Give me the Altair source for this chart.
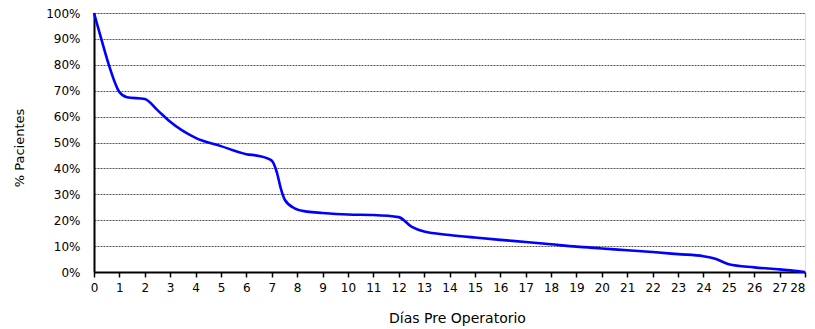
import altair as alt
import pandas as pd

# (day, % patients)
dias = [0, 0.3, 0.6, 1, 1.3, 2, 2.5, 3, 4, 5, 6, 6.5, 7, 7.2, 7.35, 7.52, 7.9, 8.4, 9, 10, 11, 12,
        12.5, 13, 14, 15, 16, 17, 18, 19, 20, 21, 22, 23, 24, 24.5, 25, 26, 27, 28]
pacientes = [100, 89.5, 79.5, 69.5, 67.5, 66.8, 62.5, 58, 51.8, 48.6, 45.5, 44.8, 43, 38.5, 32.5, 27.8,
             24.6, 23.3, 22.8, 22.2, 22, 21.2, 17.5, 15.6, 14.3, 13.3, 12.4, 11.6, 10.7, 9.8, 9.1, 8.4,
             7.7, 6.9, 6.1, 5.0, 3.0, 1.8, 1.0, 0]

x_ticks = list(range(0, 29))
y_ticks = [i / 10 for i in range(0, 11)]

df = pd.DataFrame({"dia": dias, "pct": [p / 100 for p in pacientes]})

FONT = "DejaVu Sans"

chart = alt.Chart(df).mark_line(
    color="#0000FF", strokeWidth=2.6, interpolate="monotone", clip=False
).encode(
    x=alt.X("dia:Q",
            scale=alt.Scale(domain=[0, 28], nice=False, zero=False),
            axis=alt.Axis(values=x_ticks, format="d", title="Días Pre Operatorio",
                          grid=False, tickSize=5, tickColor="black", tickWidth=1.5,
                          domainColor="black", domainWidth=2,
                          labelFont=FONT, labelFontSize=12, labelColor="black",
                          labelPadding=5, labelFlush=False, labelOverlap=False,
                          labelAlign=alt.expr("datum.value >= 28 ? 'right' : 'center'"),
                          titleFont=FONT, titleFontSize=14, titleFontWeight="normal",
                          titleColor="black", titleX=363, titleY=46,
                          titleBaseline="middle", titleAlign="center")),
    y=alt.Y("pct:Q",
            scale=alt.Scale(domain=[0, 1], nice=False),
            axis=alt.Axis(values=y_ticks, format=".0%", title="% Pacientes",
                          grid=True, gridColor="#555555", gridDash=[2, 1], gridWidth=1,
                          ticks=False, domainColor="black", domainWidth=2,
                          labelFont=FONT, labelFontSize=12, labelColor="black",
                          labelPadding=14, labelFlush=False,
                          titleFont=FONT, titleFontSize=13, titleFontWeight="normal",
                          titleColor="black", titleAngle=-90, titleX=-75, titleY=134.5,
                          titleBaseline="middle", titleAlign="center")),
).properties(
    width=711, height=259,
    autosize=alt.AutoSizeParams(type="none"),
    padding={"left": 86, "top": 5, "right": 2, "bottom": 55},
).configure_view(
    stroke="#333333", strokeWidth=2
).configure(background="white")

chart.save("out.html", embed_options={"renderer": "svg", "actions": False})
